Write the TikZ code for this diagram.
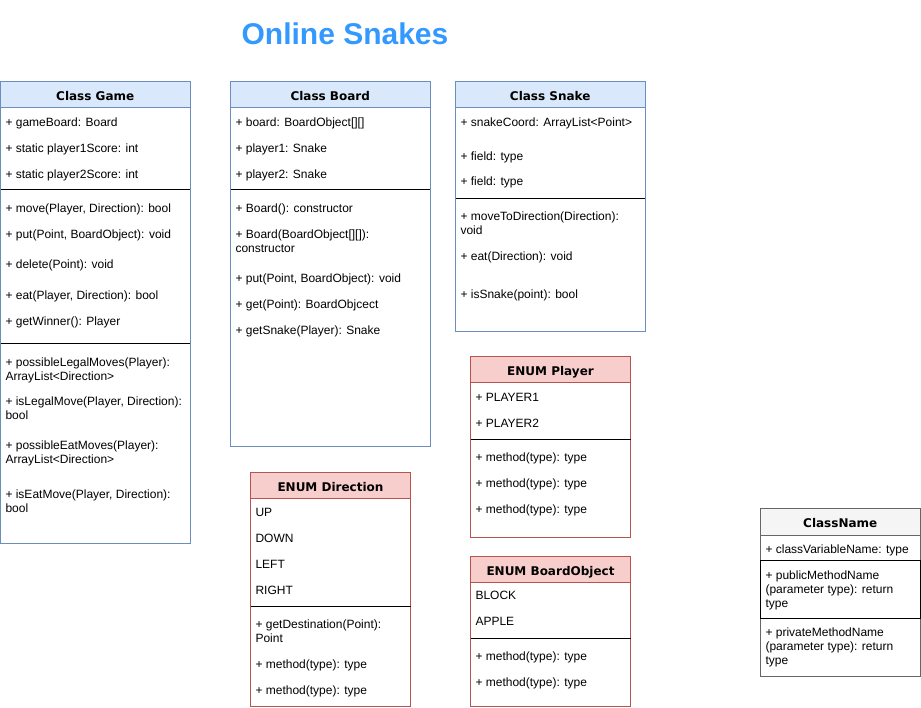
\documentclass[tikz,border=0pt]{standalone}
\usepackage{fontspec}
\setmainfont{Liberation Sans}
\newfontfamily\headfont{DejaVu Sans}
\usetikzlibrary{calc}
\definecolor{hdblue}{HTML}{DAE8FC}
\definecolor{lnblue}{HTML}{6C8EBF}
\definecolor{hdred}{HTML}{F8CECC}
\definecolor{lnred}{HTML}{B85450}
\definecolor{hdgray}{HTML}{F5F5F5}
\definecolor{lngray}{HTML}{666666}
\definecolor{titleblue}{HTML}{3399FF}
\tikzset{
    classbox/.style={draw, fill=white, line width=1pt, anchor=north west, inner sep=0pt, outer sep=0pt},
    classhead/.style={draw, line width=1pt, anchor=north west, inner sep=0pt, outer sep=0pt, minimum height=26pt,
        text height=12pt, text depth=0pt, font=\headfont\bfseries\fontsize{12}{14}\selectfont},
    member/.style={anchor=north west, inner sep=0pt, outer sep=0pt, yshift=4.2pt, align=left,
        font=\fontsize{12}{14}\selectfont, execute at begin node={\rule{0pt}{9pt}}},
    sepline/.style={draw=black, line width=1pt}
}

\begin{document}
\begin{tikzpicture}[x=1pt, y=-1pt]
                        \useasboundingbox (0,0) rectangle (921,708);
                        \node[font=\bfseries\fontsize{30}{36}\selectfont, text=titleblue, anchor=base] (title) at (345,45) {Online Snakes};

                        \node[classbox, draw=lnblue, minimum width=189.5pt, minimum height=461pt] (game) at (0.5,82) {};
                        \node[classhead, draw=lnblue, fill=hdblue, minimum width=189.5pt] (gameH) at (0.5,82) {Class Game};
                        \draw[sepline] ($(game.north west)+(0,108)$) -- ($(game.north east)+(0,108)$);
                        \draw[sepline] ($(game.north west)+(0,261.5)$) -- ($(game.north east)+(0,261.5)$);
                        \node[member] (g1) at (5.5,121.5) {+ gameBoard: Board};
                        \node[member] (g2) at (5.5,147.5) {+ static player1Score: int};
                        \node[member] (g3) at (5.5,173.5) {+ static player2Score: int};
                        \node[member] (g4) at (5.5,208) {+ move(Player, Direction): bool};
                        \node[member] (g5) at (5.5,234) {+ put(Point, BoardObject): void};
                        \node[member] (g6) at (5.5,264) {+ delete(Point): void};
                        \node[member] (g7) at (5.5,295) {+ eat(Player, Direction): bool};
                        \node[member] (g8) at (5.5,320.5) {+ getWinner(): Player};
                        \node[member] (g9) at (5.5,362.5) {+ possibleLegalMoves(Player):\\ArrayList<Direction>};
                        \node[member] (g10) at (5.5,401) {+ isLegalMove(Player, Direction):\\bool};
                        \node[member] (g11) at (5.5,445) {+ possibleEatMoves(Player):\\ArrayList<Direction>};
                        \node[member] (g12) at (5.5,494) {+ isEatMove(Player, Direction):\\bool};

                        \node[classbox, draw=lnblue, minimum width=199.5pt, minimum height=364pt] (board) at (230.5,82) {};
                        \node[classhead, draw=lnblue, fill=hdblue, minimum width=199.5pt] (boardH) at (230.5,82) {Class Board};
                        \draw[sepline] ($(board.north west)+(0,108)$) -- ($(board.north east)+(0,108)$);
                        \node[member] (b1) at (235.5,121.5) {+ board: BoardObject[][]};
                        \node[member] (b2) at (235.5,147.5) {+ player1: Snake};
                        \node[member] (b3) at (235.5,173.5) {+ player2: Snake};
                        \node[member] (b4) at (235.5,207.5) {+ Board(): constructor};
                        \node[member] (b5) at (235.5,234) {+ Board(BoardObject[][]):\\constructor};
                        \node[member] (b6) at (235.5,277.5) {+ put(Point, BoardObject): void};
                        \node[member] (b7) at (235.5,303.5) {+ get(Point): BoardObjcect};
                        \node[member] (b8) at (235.5,329.5) {+ getSnake(Player): Snake};

                        \node[classbox, draw=lnblue, minimum width=189.5pt, minimum height=250pt] (snake) at (455.5,82) {};
                        \node[classhead, draw=lnblue, fill=hdblue, minimum width=189.5pt] (snakeH) at (455.5,82) {Class Snake};
                        \draw[sepline] ($(snake.north west)+(0,116.5)$) -- ($(snake.north east)+(0,116.5)$);
                        \node[member] (s1) at (460.5,121.5) {+ snakeCoord: ArrayList<Point>};
                        \node[member] (s2) at (460.5,155.5) {+ field: type};
                        \node[member] (s3) at (460.5,181) {+ field: type};
                        \node[member] (s4) at (460.5,216) {+ moveToDirection(Direction):\\void};
                        \node[member] (s5) at (460.5,255.5) {+ eat(Direction): void};
                        \node[member] (s6) at (460.5,293.5) {+ isSnake(point): bool};

                        \node[classbox, draw=lnred, minimum width=160pt, minimum height=234.5pt] (dir) at (250.5,472) {};
                        \node[classhead, draw=lnred, fill=hdred, minimum width=160pt] (dirH) at (250.5,472) {ENUM Direction};
                        \draw[sepline] ($(dir.north west)+(0,134.5)$) -- ($(dir.north east)+(0,134.5)$);
                        \node[member] (d1) at (255.5,511.5) {UP};
                        \node[member] (d2) at (255.5,537.5) {DOWN};
                        \node[member] (d3) at (255.5,563.5) {LEFT};
                        \node[member] (d4) at (255.5,589.5) {RIGHT};
                        \node[member] (d5) at (255.5,624) {+ getDestination(Point):\\Point};
                        \node[member] (d6) at (255.5,664) {+ method(type): type};
                        \node[member] (d7) at (255.5,690) {+ method(type): type};

                        \node[classbox, draw=lnred, minimum width=160pt, minimum height=180pt] (player) at (470.5,357) {};
                        \node[classhead, draw=lnred, fill=hdred, minimum width=160pt] (playerH) at (470.5,357) {ENUM Player};
                        \draw[sepline] ($(player.north west)+(0,82.5)$) -- ($(player.north east)+(0,82.5)$);
                        \node[member] (p1) at (475.5,396.5) {+ PLAYER1};
                        \node[member] (p2) at (475.5,422.5) {+ PLAYER2};
                        \node[member] (p3) at (475.5,457) {+ method(type): type};
                        \node[member] (p4) at (475.5,483) {+ method(type): type};
                        \node[member] (p5) at (475.5,508.5) {+ method(type): type};

                        \node[classbox, draw=lnred, minimum width=160pt, minimum height=150.5pt] (bobj) at (470.5,556) {};
                        \node[classhead, draw=lnred, fill=hdred, minimum width=160pt] (bobjH) at (470.5,556) {ENUM BoardObject};
                        \draw[sepline] ($(bobj.north west)+(0,82.5)$) -- ($(bobj.north east)+(0,82.5)$);
                        \node[member] (o1) at (475.5,595) {BLOCK};
                        \node[member] (o2) at (475.5,621) {APPLE};
                        \node[member] (o3) at (475.5,656) {+ method(type): type};
                        \node[member] (o4) at (475.5,682) {+ method(type): type};

                        \node[classbox, draw=lngray, minimum width=159.5pt, minimum height=168pt] (cname) at (760.5,508) {};
                        \node[classhead, draw=lngray, fill=hdgray, minimum width=159.5pt, minimum height=27pt] (cnameH) at (760.5,508) {ClassName};
                        \node[classbox, draw=black, fill=none, minimum width=159.5pt, minimum height=58pt] (cpub) at (760.5,560.5) {};
                        \node[member] (c1) at (765.5,548.5) {+ classVariableName: type};
                        \node[member] (c2) at (765.5,575) {+ publicMethodName\\(parameter type): return\\type};
                        \node[member] (c3) at (765.5,632) {+ privateMethodName\\(parameter type): return\\type};
                    \end{tikzpicture}
\end{document}
